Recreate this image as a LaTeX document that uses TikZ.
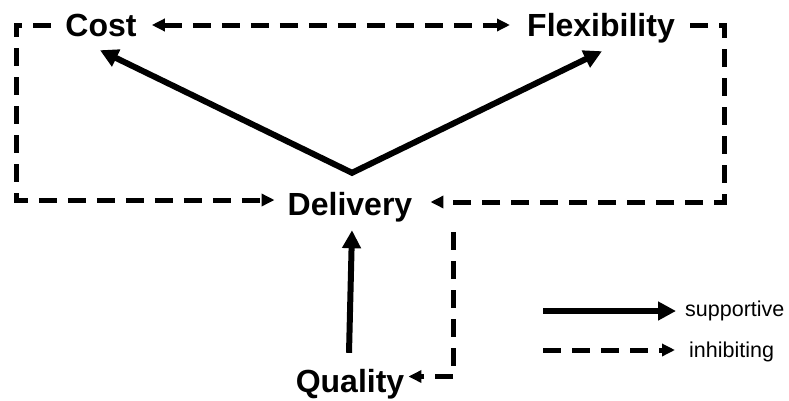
\documentclass[tikz,border=0pt]{standalone}
\usepackage{fontspec}
\setmainfont{Liberation Sans}
\usetikzlibrary{arrows.meta}
\begin{document}
\begin{tikzpicture}[x=1pt,y=-1pt,
  lbl/.style={font=\fontsize{32}{32}\selectfont\bfseries, inner sep=0pt,
              text height=23pt, text depth=1pt},
  legtext/.style={font=\fontsize{21.5}{21.5}\selectfont, inner sep=0pt, anchor=base west},
  suptip/.style={Triangle[length=18pt,width=18pt]},
  inhtip/.style={Triangle[length=13pt,width=12pt]},
  sup/.style={line width=6pt, line join=miter, -{Triangle[length=18pt,width=18pt]}},
  inh/.style={line width=5pt, dash pattern=on 18pt off 11pt, -{Triangle[length=13pt,width=12pt]}},
]
\useasboundingbox (0,0) rectangle (789,400);

% factors
\node[lbl] (cost) at (101,25) {Cost};
\node[lbl] (flex) at (601,25) {Flexibility};
\node[lbl] (del)  at (350,204) {Delivery};
\node[lbl] (qual) at (350,381) {Quality};

% helper points for the dashed loops
\coordinate (lx) at (16.5,0);
\coordinate (rx) at (724,0);
\coordinate (dl) at ([yshift=4pt]del.west);
\coordinate (dr) at ([yshift=2pt]del.east);
\coordinate (dtop) at (453.5,232);
\coordinate (dq) at (453.5,376.5);
\coordinate (apex) at ([xshift=2pt,yshift=19pt]del.north);

% inhibiting links
\draw[inh, {Triangle[length=13pt,width=12pt]}-{Triangle[length=13pt,width=12pt]},
      shorten <=15pt, shorten >=17pt] (cost.east) -- (flex.west);
\draw[inh, shorten >=13pt] ([xshift=-14pt]cost.west) -| (lx |- dl) -- (dl);
\draw[inh, shorten >=18pt] ([xshift=15pt]flex.east) -| (rx |- dr) -- (dr);
\draw[inh, shorten >=4pt] (dtop) -- (dq) -- (dq -| qual.east);

% supportive links
\draw[sup, {Triangle[length=18pt,width=18pt]}-{Triangle[length=18pt,width=18pt]}]
  ([xshift=-1pt,yshift=-13pt]cost.south) -- (apex) -- ([xshift=1pt,yshift=-14pt]flex.south);
\draw[sup] ([xshift=-1pt,yshift=16pt]qual.north) -- ([xshift=2pt,yshift=-14pt]del.south);

% legend
\node[legtext] (lsup) at (685,316.5) {supportive};
\node[legtext] (linh) at (689,357) {inhibiting};
\coordinate (ls) at (543,311);
\coordinate (li) at (543,350);
\draw[sup, shorten >=9pt] (ls) -- (ls -| lsup.west);
\draw[inh, shorten >=14pt] (li) -- (li -| linh.west);
\end{tikzpicture}
\end{document}
